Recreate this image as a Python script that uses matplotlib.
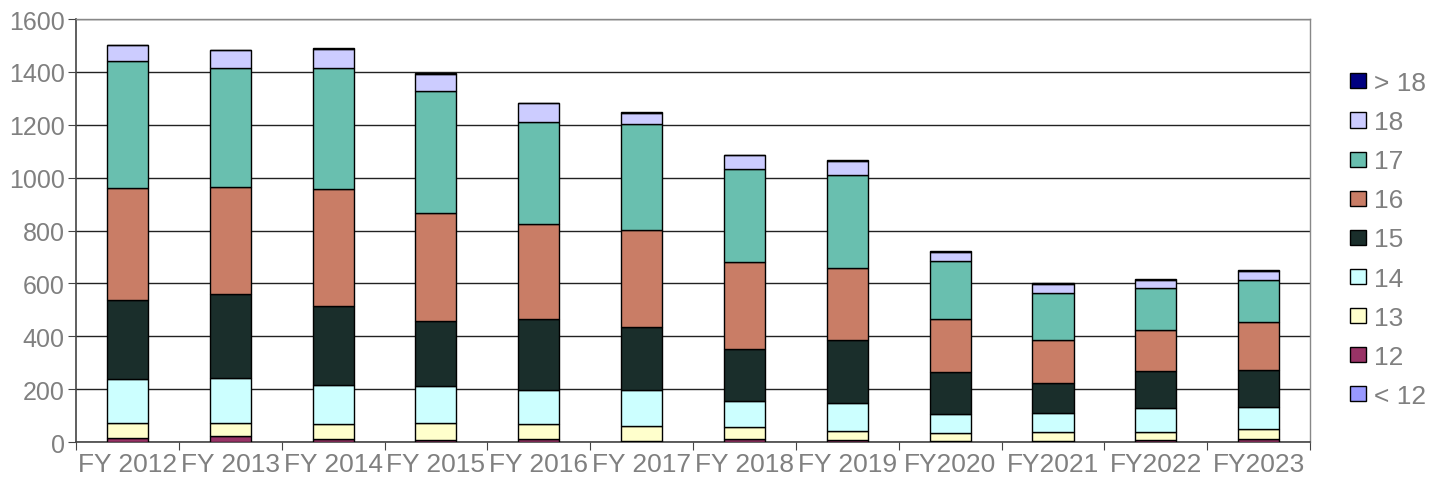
import numpy as np
import matplotlib.pyplot as plt

plt.rcParams['font.family'] = ['Liberation Sans', 'DejaVu Sans']

# Categories and series (bottom to top in each stack)
years = ['FY 2012', 'FY 2013', 'FY 2014', 'FY 2015', 'FY 2016', 'FY 2017',
         'FY 2018', 'FY 2019', 'FY2020', 'FY2021', 'FY2022', 'FY2023']
labels = ['< 12', '12', '13', '14', '15', '16', '17', '18', '> 18']

lt12 = [0, 0, 0, 0, 0, 0, 0, 0, 0, 0, 0, 0]
age12 = [14, 21, 11, 7, 11, 5, 10, 9, 2, 3, 8, 11]
age13 = [57, 52, 56, 64, 56, 55, 47, 34, 32, 35, 31, 37]
age14 = [167, 169, 147, 141, 131, 138, 97, 103, 73, 70, 91, 83]
age15 = [298, 317, 300, 245, 267, 237, 198, 239, 158, 115, 139, 141]
age16 = [424, 404, 442, 408, 360, 366, 330, 274, 201, 162, 155, 182]
age17 = [482, 450, 457, 462, 387, 401, 350, 350, 218, 179, 159, 158]
age18 = [59, 71, 73, 66, 70, 43, 53, 55, 34, 35, 31, 36]
gt18 = [0, 0, 3, 2, 0, 3, 0, 2, 3, 2, 4, 3]

series = [lt12, age12, age13, age14, age15, age16, age17, age18, gt18]
colors = ['#9999FF', '#993366', '#FFFFCC', '#CCFFFF', '#1A2E2B',
          '#C97D66', '#69BFAF', '#CCCCFF', '#000080']

fig = plt.figure(figsize=(14.31, 4.81), dpi=100)
ax = fig.add_axes([0.0531, 0.079, 0.8624, 0.8794])

x = np.arange(len(years))
bottom = np.zeros(len(years))
handles = []
for vals, col, lab in zip(series, colors, labels):
    b = ax.bar(x, vals, width=0.4, bottom=bottom, color=col,
               edgecolor='black', linewidth=1.0, label=lab, zorder=3)
    handles.append(b)
    bottom += np.array(vals)

ax.set_xlim(-0.5, len(years) - 0.5)
ax.set_ylim(0, 1600)
ax.set_yticks(np.arange(0, 1601, 200))
ax.yaxis.grid(True, color='#222222', linewidth=1.0, zorder=0)

# x ticks at category boundaries, labels centred on bars
ax.set_xticks(np.arange(-0.5, len(years), 1.0))
ax.set_xticklabels([])
ax.set_xticks(x, minor=True)
ax.set_xticklabels(years, minor=True)
ax.tick_params(axis='x', which='minor', length=0, pad=7, labelsize=19)
ax.tick_params(axis='x', which='major', length=6, color='#444444')
ax.tick_params(axis='y', length=6, color='#444444', labelsize=18, pad=2)
ax.tick_params(axis='both', which='both', labelcolor='#808080')

for s in ['top', 'right']:
    ax.spines[s].set_color('#888888')
    ax.spines[s].set_linewidth(1.0)
for s in ['left', 'bottom']:
    ax.spines[s].set_color('#444444')
    ax.spines[s].set_linewidth(1.2)

leg = fig.legend(handles[::-1], labels[::-1], loc='center left',
                 bbox_to_anchor=(0.927, 0.5), frameon=False, fontsize=19,
                 handlelength=0.6, handleheight=0.5, handletextpad=0.3,
                 labelspacing=0.57)
for t in leg.get_texts():
    t.set_color('#808080')

fig.savefig('out.png', dpi=100)
